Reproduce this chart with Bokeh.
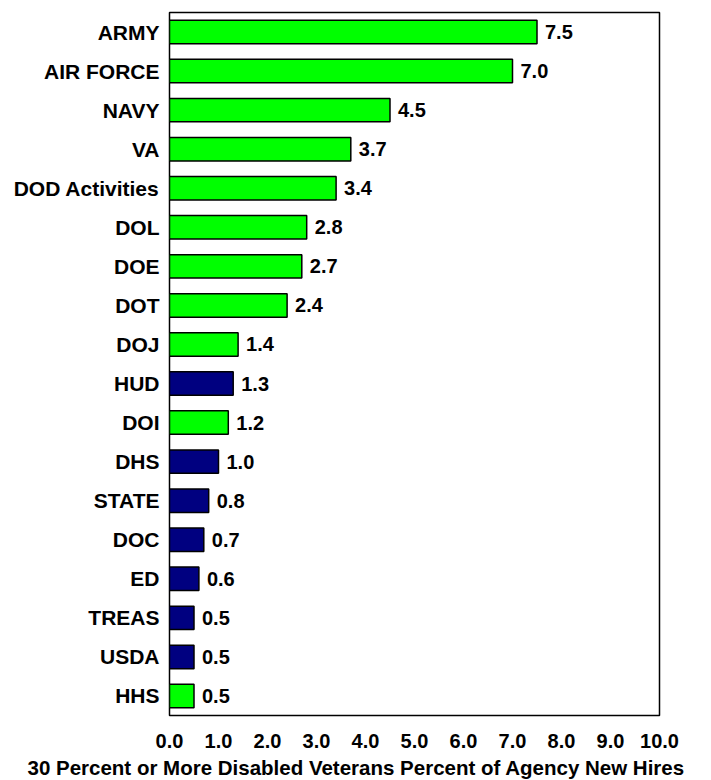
from bokeh.plotting import figure
from bokeh.models import ColumnDataSource, FactorRange, FixedTicker, NumeralTickFormatter, Title
from bokeh.transform import factor_cmap
from bokeh.core.properties import value
from bokeh.embed import file_html
from bokeh.resources import INLINE

agencies = ["ARMY", "AIR FORCE", "NAVY", "VA", "DOD Activities", "DOL", "DOE", "DOT",
            "DOJ", "HUD", "DOI", "DHS", "STATE", "DOC", "ED", "TREAS", "USDA", "HHS"]
percents = [7.5, 7.0, 4.5, 3.7, 3.4, 2.8, 2.7, 2.4, 1.4, 1.3, 1.2, 1.0, 0.8, 0.7, 0.6, 0.5, 0.5, 0.5]
groups = ["A", "A", "A", "A", "A", "A", "A", "A", "A", "B", "A", "B", "B", "B", "B", "B", "B", "A"]
x_ticks = [0, 1, 2, 3, 4, 5, 6, 7, 8, 9, 10]
x_title = "30 Percent or More Disabled Veterans Percent of Agency New Hires"

src = ColumnDataSource(dict(
    agency=agencies,
    pct=percents,
    group=groups,
    label=["%.1f" % v for v in percents],
))

FONT = "Liberation Sans"

p = figure(
    y_range=FactorRange(factors=agencies[::-1], range_padding=0),
    x_range=(0, 10),
    width=703, height=780,
    frame_width=490, frame_height=703,
    min_border_top=12, min_border_left=169, min_border_right=44, min_border_bottom=0,
    output_backend="svg", toolbar_location=None,
    background_fill_color="white",
)

p.hbar(y="agency", right="pct", height=0.6, source=src,
       fill_color=factor_cmap("group", palette=["#00FF00", "#000080"], factors=["A", "B"]),
       line_color="black", line_width=1.5)

p.text(x="pct", y="agency", text="label", source=src,
       x_offset=8, text_baseline="middle", text_align="left",
       text_font=value(FONT), text_font_style="bold", text_font_size="20px",
       text_color="black")

p.xgrid.visible = False
p.ygrid.visible = False
p.outline_line_color = "black"
p.outline_line_width = 1.5

p.xaxis.ticker = FixedTicker(ticks=x_ticks)
p.xaxis.formatter = NumeralTickFormatter(format="0.0")
p.xaxis.axis_line_color = None
p.xaxis.major_tick_line_color = None
p.xaxis.minor_tick_line_color = None
p.xaxis.major_tick_out = 0
p.xaxis.major_label_standoff = 18
p.xaxis.major_label_text_font = FONT
p.xaxis.major_label_text_font_style = "bold"
p.xaxis.major_label_text_font_size = "20px"
p.xaxis.major_label_text_color = "black"

xt = Title(text=x_title, align="left", offset=-142, standoff=6,
           text_font=FONT, text_font_style="bold", text_font_size="20.5px",
           text_color="black")
p.add_layout(xt, "below")

p.yaxis.axis_line_color = None
p.yaxis.major_tick_line_color = None
p.yaxis.major_tick_out = 0
p.yaxis.major_label_standoff = 10
p.yaxis.major_label_text_font = FONT
p.yaxis.major_label_text_font_style = "bold"
p.yaxis.major_label_text_font_size = "21px"
p.yaxis.major_label_text_color = "black"

open("out.html", "w").write(file_html(p, INLINE))
